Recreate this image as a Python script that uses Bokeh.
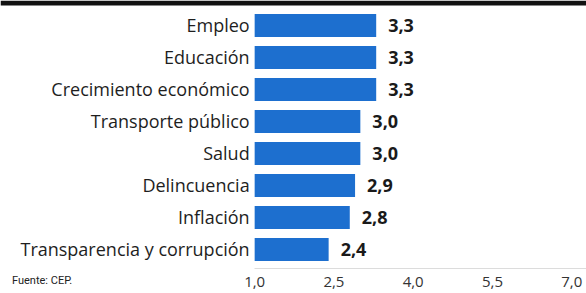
from bokeh.plotting import figure
from bokeh.models import ColumnDataSource, Range1d, FixedTicker, Span, Div
from bokeh.layouts import column
from bokeh.core.properties import value
from bokeh.embed import file_html
from bokeh.resources import INLINE

categories = ["Empleo", "Educación", "Crecimiento económico", "Transporte público",
              "Salud", "Delincuencia", "Inflación", "Transparencia y corrupción"]
values = [3.3, 3.3, 3.3, 3.0, 3.0, 2.9, 2.8, 2.4]
ticks = [1.0, 2.5, 4.0, 5.5, 7.0]
tick_labels = ["1,0", "2,5", "4,0", "5,5", "7,0"]
source_note = "Fuente: CEP."
base = 1.0

n = len(categories)
ypos = list(range(n - 1, -1, -1))
labels = [f"{v:.1f}".replace(".", ",") for v in values]

src = ColumnDataSource(dict(cat=categories, val=values, y=ypos,
                            base=[base] * n, lbl=labels))

x_range = Range1d(-3.81, 7.28)
y_range = Range1d(-0.594, 7.78)

p = figure(width=586, height=293, x_range=x_range, y_range=y_range,
           output_backend="svg", toolbar_location=None, y_axis_location=None,
           min_border=0, min_border_bottom=25,
           background_fill_color="white", border_fill_color="white")
p.outline_line_color = None
p.grid.visible = False

p.hbar(y="y", left="base", right="val", height=0.72, source=src,
       fill_color="#1d6fcf", line_color=None)

p.text(x="base", y="y", text="cat", source=src, x_offset=-5,
       text_align="right", text_baseline="middle",
       text_font=value("Open Sans"), text_font_size="18px", text_color="#1e1e1e")

p.text(x="val", y="y", text="lbl", source=src, x_offset=12,
       text_align="left", text_baseline="middle",
       text_font=value("Open Sans"), text_font_size="18px",
       text_font_style="bold", text_color="#1a1a1a")

ax = p.xaxis[0]
ax.ticker = FixedTicker(ticks=ticks)
ax.major_label_overrides = {t: l for t, l in zip(ticks, tick_labels)}
ax.bounds = (base, x_range.end)
ax.axis_line_color = "#dcdcdc"
ax.axis_line_width = 1
ax.major_tick_line_color = None
ax.minor_tick_line_color = None
ax.major_label_standoff = 2
ax.major_label_text_font = "Open Sans"
ax.major_label_text_font_size = "15px"
ax.major_label_text_color = "#333333"

p.add_layout(Span(location=y_range.end - 0.08, dimension="width",
                  line_color="#111111", line_width=5))

note = Div(text=source_note, width=100, height=14,
           styles={"margin-top": "-19px", "margin-left": "12px",
                   "font-family": "Roboto", "font-size": "11px",
                   "color": "#222222", "line-height": "14px"})

layout = column(p, note, spacing=0)

open("out.html", "w").write(file_html(layout, INLINE))
